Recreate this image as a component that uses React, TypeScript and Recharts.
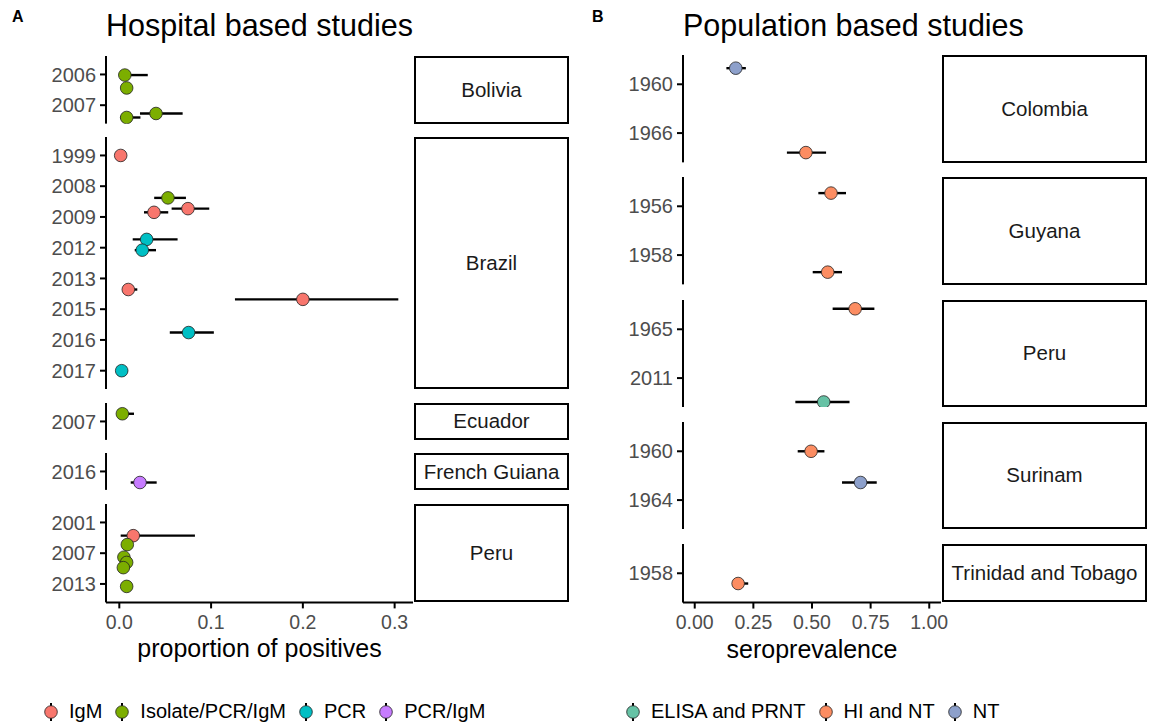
import React from 'react';
import { ScatterChart, Scatter, XAxis, YAxis, ErrorBar } from 'recharts';

const HOSP_TYPES = ['IgM', 'Isolate/PCR/IgM', 'PCR', 'PCR/IgM'];
const HOSP_COLORS = ['#F8766D', '#7CAE00', '#00BFC4', '#C77CFF'];
const POP_TYPES = ['ELISA and PRNT', 'HI and NT', 'NT'];
const POP_COLORS = ['#66C2A5', '#FC8D62', '#8DA0CB'];

const hospCountries = ['Bolivia', 'Brazil', 'Ecuador', 'French Guiana', 'Peru'];
const hospYears = [
  ['2006', '2007'],
  ['1999', '2008', '2009', '2012', '2013', '2015', '2016', '2017'],
  ['2007'],
  ['2016'],
  ['2001', '2007', '2013'],
];
// row = jittered position on the year axis, p = proportion, lo/hi = interval
const hospStudies = [
  { country: 'Bolivia', type: 'Isolate/PCR/IgM', row: 1.02, p: 0.006, lo: 0.0, hi: 0.031 },
  { country: 'Bolivia', type: 'Isolate/PCR/IgM', row: 1.44, p: 0.008, lo: 0.004, hi: 0.012 },
  { country: 'Bolivia', type: 'Isolate/PCR/IgM', row: 2.4, p: 0.008, lo: 0.001, hi: 0.023 },
  { country: 'Bolivia', type: 'Isolate/PCR/IgM', row: 2.27, p: 0.04, lo: 0.0225, hi: 0.069 },
  { country: 'Brazil', type: 'IgM', row: 1.0, p: 0.0015, lo: 0.0007, hi: 0.003 },
  { country: 'Brazil', type: 'Isolate/PCR/IgM', row: 2.38, p: 0.053, lo: 0.038, hi: 0.0726 },
  { country: 'Brazil', type: 'IgM', row: 2.73, p: 0.0748, lo: 0.057, hi: 0.098 },
  { country: 'Brazil', type: 'IgM', row: 2.85, p: 0.0378, lo: 0.0269, hi: 0.0533 },
  { country: 'Brazil', type: 'PCR', row: 3.73, p: 0.0298, lo: 0.0146, hi: 0.0635 },
  { country: 'Brazil', type: 'PCR', row: 4.08, p: 0.025, lo: 0.0168, hi: 0.04 },
  { country: 'Brazil', type: 'IgM', row: 5.36, p: 0.0098, lo: 0.004, hi: 0.0196 },
  { country: 'Brazil', type: 'IgM', row: 5.68, p: 0.2, lo: 0.126, hi: 0.304 },
  { country: 'Brazil', type: 'PCR', row: 6.76, p: 0.0755, lo: 0.055, hi: 0.103 },
  { country: 'Brazil', type: 'PCR', row: 8.0, p: 0.0026, lo: 0.0007, hi: 0.009 },
  { country: 'Ecuador', type: 'Isolate/PCR/IgM', row: 0.75, p: 0.0033, lo: 0.001, hi: 0.016 },
  { country: 'French Guiana', type: 'PCR/IgM', row: 1.36, p: 0.0225, lo: 0.0124, hi: 0.0407 },
  { country: 'Peru', type: 'IgM', row: 1.43, p: 0.0152, lo: 0.0015, hi: 0.0824 },
  { country: 'Peru', type: 'Isolate/PCR/IgM', row: 1.72, p: 0.0087, lo: 0.006, hi: 0.012 },
  { country: 'Peru', type: 'Isolate/PCR/IgM', row: 2.13, p: 0.005, lo: 0.003, hi: 0.008 },
  { country: 'Peru', type: 'Isolate/PCR/IgM', row: 2.3, p: 0.008, lo: 0.005, hi: 0.011 },
  { country: 'Peru', type: 'Isolate/PCR/IgM', row: 2.47, p: 0.0044, lo: 0.002, hi: 0.007 },
  { country: 'Peru', type: 'Isolate/PCR/IgM', row: 3.08, p: 0.008, lo: 0.005, hi: 0.011 },
];

const popCountries = ['Colombia', 'Guyana', 'Peru', 'Surinam', 'Trinidad and Tobago'];
const popYears = [
  ['1960', '1966'],
  ['1956', '1958'],
  ['1965', '2011'],
  ['1960', '1964'],
  ['1958'],
];
const popStudies = [
  { country: 'Colombia', type: 'NT', row: 0.67, p: 0.175, lo: 0.135, hi: 0.218 },
  { country: 'Colombia', type: 'HI and NT', row: 2.4, p: 0.474, lo: 0.393, hi: 0.56 },
  { country: 'Guyana', type: 'HI and NT', row: 0.73, p: 0.581, lo: 0.527, hi: 0.645 },
  { country: 'Guyana', type: 'HI and NT', row: 2.35, p: 0.567, lo: 0.503, hi: 0.628 },
  { country: 'Peru', type: 'HI and NT', row: 0.58, p: 0.684, lo: 0.588, hi: 0.766 },
  { country: 'Peru', type: 'ELISA and PRNT', row: 2.49, p: 0.55, lo: 0.429, hi: 0.66 },
  { country: 'Surinam', type: 'HI and NT', row: 1.0, p: 0.496, lo: 0.439, hi: 0.553 },
  { country: 'Surinam', type: 'NT', row: 1.64, p: 0.707, lo: 0.628, hi: 0.776 },
  { country: 'Trinidad and Tobago', type: 'HI and NT', row: 1.21, p: 0.185, lo: 0.171, hi: 0.228 },
];

const hospTicks = [0, 0.1, 0.2, 0.3];
const popTicks = [0, 0.25, 0.5, 0.75, 1];

const FONT = '"Liberation Sans", Arial, sans-serif';
const AXIS_H = 62;
const RIGHT_PAD = 25;

function Facet({ left, top, yW, plotW, h, years, pts, types, colors, domain, ticks, digits, showX, xLabel }: any) {
  const rows = pts.map((d: any) => ({ ...d, err: [d.p - d.lo, d.hi - d.p] }));
  return (
    <div style={{ position: 'absolute', left, top }}>
      <ScatterChart width={yW + plotW + RIGHT_PAD} height={h + (showX ? AXIS_H : 0)} margin={{ top: 0, right: RIGHT_PAD, bottom: 0, left: 0 }}>
        <XAxis
          type="number"
          dataKey="p"
          domain={domain}
          ticks={ticks}
          allowDataOverflow
          hide={!showX}
          height={AXIS_H}
          tickFormatter={(v: number) => v.toFixed(digits)}
          tick={{ fill: '#4D4D4D', fontSize: 19.5 }}
          tickSize={6}
          tickMargin={7}
          axisLine={{ stroke: '#000', strokeWidth: 2 }}
          tickLine={{ stroke: '#000', strokeWidth: 2 }}
          label={{ value: xLabel, position: 'insideBottom', offset: 7, fill: '#000', fontSize: 25 }}
        />
        <YAxis
          type="number"
          dataKey="row"
          domain={[0.4, years.length + 0.6]}
          ticks={years.map((_: string, i: number) => i + 1)}
          interval={0}
          reversed
          allowDataOverflow
          width={yW}
          tickFormatter={(v: number) => years[v - 1]}
          tick={{ fill: '#4D4D4D', fontSize: 20 }}
          tickSize={6}
          tickMargin={4}
          axisLine={{ stroke: '#000', strokeWidth: 2 }}
          tickLine={{ stroke: '#000', strokeWidth: 2 }}
        />
        {types.map((t: string, i: number) => (
          <Scatter
            key={t}
            data={rows.filter((d: any) => d.type === t)}
            isAnimationActive={false}
            shape={(p: any) => <circle cx={p.cx} cy={p.cy} r={6.3} fill={colors[i]} stroke="#222" strokeWidth={0.8} />}
          >
            <ErrorBar dataKey="err" direction="x" width={0} stroke="#000" strokeWidth={2.4} />
          </Scatter>
        ))}
      </ScatterChart>
    </div>
  );
}

function Panel({ tag, title, x, yW, plotW, stripW, top, unit, gap, countries, years, studies, types, colors, domain, ticks, digits, xLabel, legendLeft }: any) {
  let y = top;
  const facets = countries.map((c: string, i: number) => {
    const h = (years[i].length + 0.2) * unit;
    const f = { c, i, top: y, h };
    y += h + gap;
    return f;
  });
  const plotLeft = x + yW;
  return (
    <>
      <div style={{ position: 'absolute', left: x + 12, top: 9, fontSize: 16, fontWeight: 'bold', lineHeight: 1 }}>{tag}</div>
      <div style={{ position: 'absolute', left: plotLeft, top: 10, fontSize: 30.5, lineHeight: 1, whiteSpace: 'nowrap' }}>{title}</div>
      {facets.map((f: any) => (
        <Facet
          key={f.c}
          left={x}
          top={f.top}
          yW={yW}
          plotW={plotW}
          h={f.h}
          years={years[f.i]}
          pts={studies.filter((d: any) => d.country === f.c)}
          types={types}
          colors={colors}
          domain={domain}
          ticks={ticks}
          digits={digits}
          showX={f.i === countries.length - 1}
          xLabel={xLabel}
        />
      ))}
      {facets.map((f: any) => (
        <div
          key={'s' + f.c}
          style={{
            position: 'absolute', left: plotLeft + plotW + 1, top: f.top, width: stripW, height: f.h,
            border: '2px solid #000', boxSizing: 'border-box', display: 'flex', alignItems: 'center',
            justifyContent: 'center', fontSize: 20.5, color: '#1A1A1A', whiteSpace: 'nowrap', background: '#fff',
          }}
        >
          {f.c}
        </div>
      ))}
      <div style={{ position: 'absolute', left: legendLeft, top: 700, display: 'flex', alignItems: 'center', fontSize: 20, color: '#000' }}>
        {types.map((t: string, i: number) => (
          <div key={t} style={{ display: 'flex', alignItems: 'center', marginRight: 13 }}>
            <svg width={14} height={22}>
              <line x1={7} x2={7} y1={2} y2={20} stroke="#000" strokeWidth={2} />
              <circle cx={7} cy={11} r={6.3} fill={colors[i]} stroke="#222" strokeWidth={0.8} />
            </svg>
            <span style={{ marginLeft: 11 }}>{t}</span>
          </div>
        ))}
      </div>
    </>
  );
}

export default function App() {
  return (
    <div style={{ position: 'absolute', left: 0, top: 0, width: 1152, height: 726, background: '#fff', fontFamily: FONT, color: '#000', overflow: 'hidden' }}>
      <Panel
        tag="A" title="Hospital based studies" x={0} yW={106} plotW={307} stripW={155}
        top={56} unit={30.75} gap={13.5}
        countries={hospCountries} years={hospYears} studies={hospStudies}
        types={HOSP_TYPES} colors={HOSP_COLORS}
        domain={[-0.0145, 0.32]} ticks={hospTicks} digits={1}
        xLabel="proportion of positives" legendLeft={44}
      />
      <Panel
        tag="B" title="Population based studies" x={580} yW={103} plotW={258} stripW={205}
        top={55.3} unit={48.8} gap={14.8}
        countries={popCountries} years={popYears} studies={popStudies}
        types={POP_TYPES} colors={POP_COLORS}
        domain={[-0.05, 1.05]} ticks={popTicks} digits={2}
        xLabel="seroprevalence" legendLeft={626}
      />
    </div>
  );
}
